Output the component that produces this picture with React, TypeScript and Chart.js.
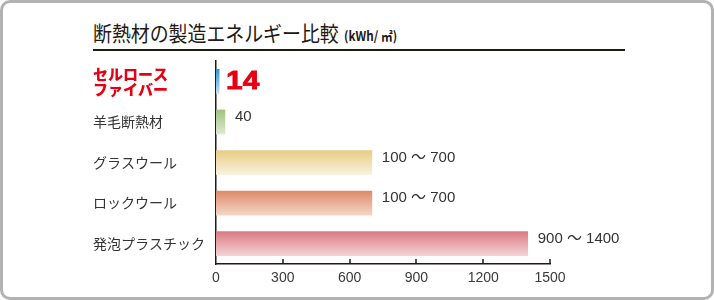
import React, { useEffect, useRef } from 'react';
import { Chart, registerables } from 'chart.js';

Chart.register(...registerables);

const titleText = '断熱材の製造エネルギー比較';
const unitText = '(kWh/ ㎡)';
const categories: (string | string[])[] = [
  ['セルロース', 'ファイバー'],
  '羊毛断熱材',
  'グラスウール',
  'ロックウール',
  '発泡プラスチック',
];
const values = [14, 40, 700, 700, 1400];
const valueLabels = ['14', '40', '100 ～ 700', '100 ～ 700', '900 ～ 1400'];
const xTickValues = [0, 300, 600, 900, 1200, 1500];
const barTopColors = ['#2f98d4', '#a2c27f', '#e8cd84', '#dd8c69', '#da7b84'];
const barBottomColors = ['#bfe0f3', '#dceacd', '#f9f1de', '#f5d5c6', '#f4d3d6'];

const JP = "'Noto Sans CJK JP', sans-serif";
const LAT = "'Liberation Sans', 'Noto Sans CJK JP', sans-serif";
const INK = '#231815';

export default function App() {
  const canvasRef = useRef<HTMLCanvasElement | null>(null);

  useEffect(() => {
    const canvas = canvasRef.current;
    if (!canvas) return;

    const gradientPlugin = {
      id: 'barGradients',
      beforeDatasetsDraw(chart: any) {
        const ctx = chart.ctx;
        const meta = chart.getDatasetMeta(0);
        meta.data.forEach((bar: any, i: number) => {
          const h = bar.height || 24;
          if (!isFinite(bar.y)) return;
          const g = ctx.createLinearGradient(0, bar.y - h / 2, 0, bar.y + h / 2);
          g.addColorStop(0, barTopColors[i]);
          g.addColorStop(1, barBottomColors[i]);
          bar.options = Object.assign({}, bar.options, { backgroundColor: g });
        });
      },
    };

    const labelPlugin = {
      id: 'valueLabels',
      afterDraw(chart: any) {
        const ctx = chart.ctx;
        const xs = chart.scales.x;
        ctx.save();
        ctx.strokeStyle = INK;
        ctx.lineWidth = 1.5;
        xTickValues.forEach((v) => {
          if (v === 0) return;
          const px = Math.round(xs.getPixelForValue(v));
          ctx.beginPath();
          ctx.moveTo(px, xs.top);
          ctx.lineTo(px, xs.top - 5);
          ctx.stroke();
        });
        ctx.restore();

        const meta = chart.getDatasetMeta(0);
        meta.data.forEach((bar: any, i: number) => {
          ctx.save();
          ctx.textAlign = 'left';
          ctx.textBaseline = 'middle';
          if (i === 0) {
            ctx.font = `bold 26px ${LAT}`;
            ctx.fillStyle = '#e60012';
            ctx.translate(bar.x + 7, bar.y + 1);
            ctx.scale(1.15, 1);
            ctx.fillText(valueLabels[i], 0, 0);
            ctx.lineWidth = 0.8;
            ctx.strokeStyle = '#e60012';
            ctx.strokeText(valueLabels[i], 0, 0);
          } else {
            ctx.font = `15px ${LAT}`;
            ctx.fillStyle = '#333333';
            ctx.fillText(valueLabels[i], bar.x + 10, bar.y - 5);
          }
          ctx.restore();
        });
      },
    };

    const chart = new Chart(canvas, {
      type: 'bar',
      data: {
        labels: categories as any,
        datasets: [
          {
            data: values,
            barThickness: 24,
            borderWidth: 0,
            backgroundColor: barTopColors,
          },
        ],
      },
      options: {
        indexAxis: 'y',
        responsive: false,
        animation: false,
        layout: { padding: { left: 93, right: 164, top: 61, bottom: 0 } },
        plugins: {
          legend: { display: false },
          tooltip: { enabled: false },
        },
        scales: {
          x: {
            min: 0,
            max: 1500,
            afterBuildTicks: (scale: any) => {
              scale.ticks = xTickValues.map((v) => ({ value: v }));
            },
            afterFit: (scale: any) => {
              scale.height = 36;
            },
            grid: { display: false, drawTicks: false },
            border: { display: true, color: INK, width: 1.5 },
            ticks: {
              padding: 6,
              color: '#3a3a3a',
              font: { family: LAT, size: 14 },
              maxRotation: 0,
              autoSkip: false,
              callback: (v: any) => String(v),
            },
          },
          y: {
            afterFit: (scale: any) => {
              scale.width = 123;
            },
            grid: { display: false, drawTicks: false },
            border: { display: true, color: INK, width: 1.5 },
            ticks: {
              crossAlign: 'far',
              autoSkip: false,
              color: (c: any) => (c.index === 0 ? '#e60012' : '#333333'),
              font: (c: any) =>
                c.index === 0
                  ? { family: JP, size: 15, weight: '900', lineHeight: 1.0 }
                  : { family: JP, size: 14 },
            },
          },
        },
      },
      plugins: [gradientPlugin, labelPlugin],
    } as any);

    return () => {
      chart.destroy();
    };
  }, []);

  return (
    <div
      style={{
        position: 'fixed',
        left: 0,
        top: 0,
        width: 714,
        height: 300,
        background: '#ffffff',
      }}
    >
      <div
        style={{
          position: 'absolute',
          left: 0,
          top: 0,
          width: 714,
          height: 300,
          boxSizing: 'border-box',
          border: '3px solid #b2b2b2',
          borderRadius: 10,
        }}
      />
      <div
        style={{
          position: 'absolute',
          left: 93,
          top: 22,
          whiteSpace: 'nowrap',
          fontFamily: JP,
          fontSize: 21,
          lineHeight: 1,
          color: INK,
          transform: 'scaleX(0.9)',
          transformOrigin: 'left top',
        }}
      >
        {titleText}
        <span style={{ fontSize: 13, fontWeight: 'bold', marginLeft: 6 }}>{unitText}</span>
      </div>
      <div
        style={{
          position: 'absolute',
          left: 93,
          top: 49,
          width: 532,
          height: 2,
          background: INK,
        }}
      />
      <canvas
        ref={canvasRef}
        width={714}
        height={300}
        style={{ position: 'absolute', left: 0, top: 0, width: 714, height: 300 }}
      />
    </div>
  );
}
